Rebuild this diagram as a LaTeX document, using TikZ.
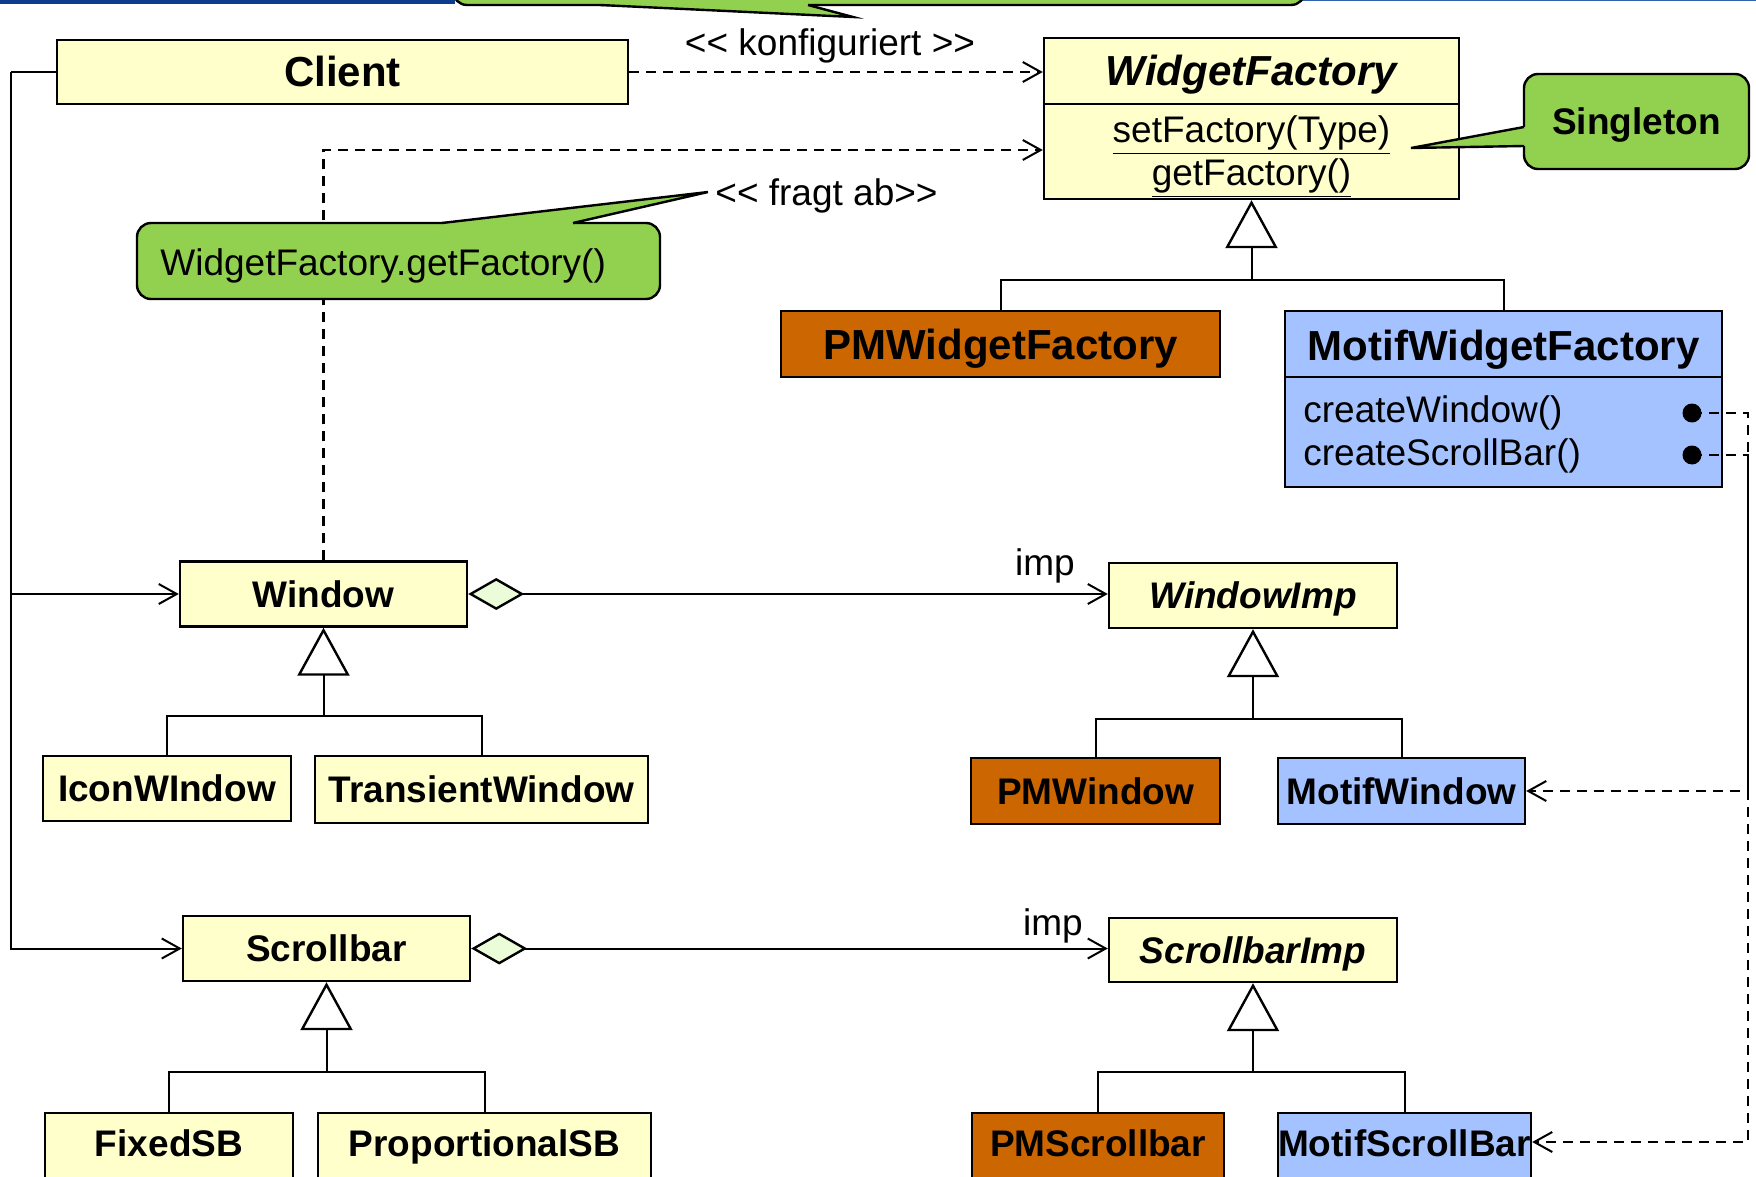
\documentclass[tikz,border=0pt]{standalone}
\usepackage{fontspec}
\setmainfont{Liberation Sans}[Ligatures=TeXOff]
\usetikzlibrary{arrows.meta}
\definecolor{clsyellow}{HTML}{FFFFCC}
\definecolor{notegreen}{HTML}{92D050}
\definecolor{pmorange}{HTML}{CC6600}
\definecolor{motifblue}{HTML}{A4C2FF}
\definecolor{diagreen}{HTML}{EBFCD9}
\definecolor{bardark}{HTML}{0B3D8C}
\definecolor{barlight}{HTML}{3063AE}
\begin{document}
\begin{tikzpicture}[x=0.5pt,y=-0.5pt,
  cls/.style={draw=black, line width=1.2pt, inner sep=0pt, text height=13.2pt, text depth=0pt,
    font=\fontsize{18.5}{22}\selectfont\bfseries},
  bigcls/.style={cls, text height=15pt, font=\fontsize{21}{25}\selectfont\bfseries},
  yel/.style={fill=clsyellow},
  pm/.style={fill=pmorange},
  motif/.style={fill=motifblue},
  note/.style={draw=black, line width=1.2pt, fill=notegreen, rounded corners=7pt, inner sep=0pt},
  txt/.style={inner sep=0pt, font=\fontsize{18.5}{22}\selectfont},
  conn/.style={line width=1pt},
  assoc/.style={conn, -{Straight Barb[length=9pt,width=10pt,line width=1pt]}},
  dep/.style={assoc, line width=1.2pt, dash pattern=on 5pt off 3.5pt},
  inh/.style={conn, -{Triangle[open,length=24pt,width=26pt,line width=1.2pt]}},
  agg/.style={conn, {Diamond[length=28pt,width=16pt,fill=diagreen,line width=1.2pt]}-{Straight Barb[length=9pt,width=10pt,line width=1pt]}},
]
\useasboundingbox (0,0) rectangle (1756,1177);
\clip (0,0) rectangle (1756,1177);
\fill[white] (0,0) rectangle (1756,1177);

% top bar
\fill[bardark] (0,0) rectangle (455,4);
\fill[barlight] (1300,0) rectangle (1756,1.5);

% top callout (cut off)
\node[note, minimum width=426pt, minimum height=32.5pt] (topnote) at (879,-27.5) {};
\fill[notegreen] (600,5) -- (853,17) -- (808,5) -- (808,-1) -- (600,-1) -- cycle;
\draw[line width=1.2pt] (600,5) -- (853,17) -- (808,5);

% Client
\node[bigcls,yel,minimum width=285.5pt,minimum height=32pt] (client) at (342.5,72) {Client};

% WidgetFactory
\node[cls,yel,minimum width=207.5pt,minimum height=80.5pt] (wf) at (1251.5,118.5) {};
\draw[line width=1.2pt] (wf.west |- 0,104) -- (wf.east |- 0,104);
\node[txt, text height=15pt, text depth=0pt, font=\fontsize{21}{25}\selectfont\bfseries\itshape] (wft) at (1251.5,71) {WidgetFactory};
\node[txt] (wfm1) at (1251.5,135) {\underline{setFactory(Type)}};
\node[txt] (wfm2) at (1251.5,178) {\underline{getFactory()}};

% Singleton note
\node[note, minimum width=112.5pt, minimum height=47.5pt, text height=13.2pt, text depth=0pt,
  font=\fontsize{18.5}{22}\selectfont\bfseries] (singleton) at (1636.5,121.5) {Singleton};
\fill[notegreen] (1524,127) -- (1411,148) -- (1524,146) -- (1530,146) -- (1530,127) -- cycle;
\draw[line width=1.2pt] (1524,127) -- (1411,148) -- (1524,146);

% Factories
\node[bigcls,pm,minimum width=219.5pt,minimum height=33pt] (pmwf) at (1000.5,344) {PMWidgetFactory};
\node[cls,motif,minimum width=218.5pt,minimum height=88pt] (mwf) at (1503.5,399) {};
\draw[line width=1.2pt] (mwf.west |- 0,377) -- (mwf.east |- 0,377);
\node[txt, text height=15pt, text depth=0pt, font=\fontsize{21}{25}\selectfont\bfseries] (mwft) at (1503.5,345) {MotifWidgetFactory};
\node[txt, anchor=west] (mwfm1) at (1303,413) {createWindow()};
\node[txt, anchor=west] (mwfm2) at (1303,456) {createScrollBar()};
\node[circle, fill=black, inner sep=0pt, minimum size=9.5pt] (dot1) at (1692,413) {};
\node[circle, fill=black, inner sep=0pt, minimum size=9.5pt] (dot2) at (1692,455) {};

% Window hierarchy
\node[cls,yel,minimum width=143.5pt,minimum height=32.5pt] (window) at (323.5,594) {Window};
\node[cls,yel,minimum width=124pt,minimum height=32.5pt] (iconw) at (167,788.5) {IconWIndow};
\node[cls,yel,minimum width=166.5pt,minimum height=33.5pt] (transw) at (481.5,789.5) {TransientWindow};
\node[cls,yel,minimum width=144pt,minimum height=32.5pt, font=\fontsize{18.5}{22}\selectfont\bfseries\itshape] (windowimp) at (1253,595.5) {WindowImp};
\node[cls,pm,minimum width=124.5pt,minimum height=33pt] (pmwindow) at (1095.5,791) {PMWindow};
\node[cls,motif,minimum width=123.5pt,minimum height=33pt] (motifwindow) at (1401.5,791) {MotifWindow};

% Scrollbar hierarchy
\node[cls,yel,minimum width=143.5pt,minimum height=32.5pt] (scrollbar) at (326.5,948.5) {Scrollbar};
\node[cls,yel,minimum width=144pt,minimum height=32pt, font=\fontsize{18.5}{22}\selectfont\bfseries\itshape] (sbimp) at (1253,950) {ScrollbarImp};
\node[cls,yel,minimum width=124pt,minimum height=36pt] (fixedsb) at (169,1149) {};
\node[cls,yel,minimum width=166.5pt,minimum height=36pt] (propsb) at (484.5,1149) {};
\node[cls,pm,minimum width=126pt,minimum height=36pt] (pmsb) at (1098,1149) {};
\node[cls,motif,minimum width=126.5pt,minimum height=36pt] (motifsb) at (1404.5,1149) {};
\node[txt, text height=13.2pt, text depth=0pt, font=\fontsize{18.5}{22}\selectfont\bfseries] (fixedsbt) at (169,1143) {FixedSB};
\node[txt, text height=13.2pt, text depth=0pt, font=\fontsize{18.5}{22}\selectfont\bfseries] (propsbt) at (484.5,1143) {ProportionalSB};
\node[txt, text height=13.2pt, text depth=0pt, font=\fontsize{18.5}{22}\selectfont\bfseries] (pmsbt) at (1098,1143) {PMScrollbar};
\node[txt, text height=13.2pt, text depth=0pt, font=\fontsize{18.5}{22}\selectfont\bfseries] (motifsbt) at (1404.5,1143) {MotifScrollBar};

% Client associations
\coordinate (cl) at (11,72);
\draw[conn] (client.west) -- (cl);
\draw[assoc] (cl) |- (window.west);
\draw[assoc] (cl) |- (scrollbar.west);

% dependencies to WidgetFactory
\draw[dep] (client.east) -- (client.east -| wf.west);
\node[txt] (konf) at (830,46) {<< konfiguriert >>};
\draw[dep] (window.north) |- (wf.west |- 0,150);
\node[txt, anchor=west] (fragt) at (715,196) {<< fragt ab>>};

% getFactory note (over the dashed line)
\node[note, minimum width=261.5pt, minimum height=38pt] (gfnote) at (398.5,261) {};
\fill[notegreen] (442,223) -- (708,192) -- (573,223) -- (573,229) -- (442,229) -- cycle;
\draw[line width=1.2pt] (442,223) -- (708,192) -- (573,223);
\node[txt, anchor=west] (gftext) at (160,266) {WidgetFactory.getFactory()};

% inheritance
\coordinate (wfbar) at (1251.5,280);
\draw[conn] (pmwf.north) |- (wfbar) -| (mwf.north);
\draw[inh] (wfbar) -- (wf.south);

\coordinate (wbar) at (323.5,716);
\draw[conn] (iconw.north) |- (wbar) -| (transw.north);
\draw[inh] (wbar) -- (window.south);

\coordinate (wibar) at (1253,719);
\draw[conn] (pmwindow.north) |- (wibar) -| (motifwindow.north);
\draw[inh] (wibar) -- (windowimp.south);

\coordinate (sbar) at (326.5,1072);
\draw[conn] (fixedsb.north) |- (sbar) -| (propsb.north);
\draw[inh] (sbar) -- (scrollbar.south);

\coordinate (sibar) at (1253,1072);
\draw[conn] (pmsb.north) |- (sibar) -| (motifsb.north);
\draw[inh] (sibar) -- (sbimp.south);

% aggregations
\draw[agg] (window.east) -- (window.east -| windowimp.west);
\node[txt] (imp1) at (1045,566) {imp};
\draw[agg] (scrollbar.east) -- (scrollbar.east -| sbimp.west);
\node[txt] (imp2) at (1053,926) {imp};

% motif creation dependencies
\draw[dep] (dot1.center) -- (1748,413) |- (motifwindow.east);
\draw[dep] (dot2.center) -- (1748,455) |- (motifsb.east |- 0,1142);
\end{tikzpicture}
\end{document}
